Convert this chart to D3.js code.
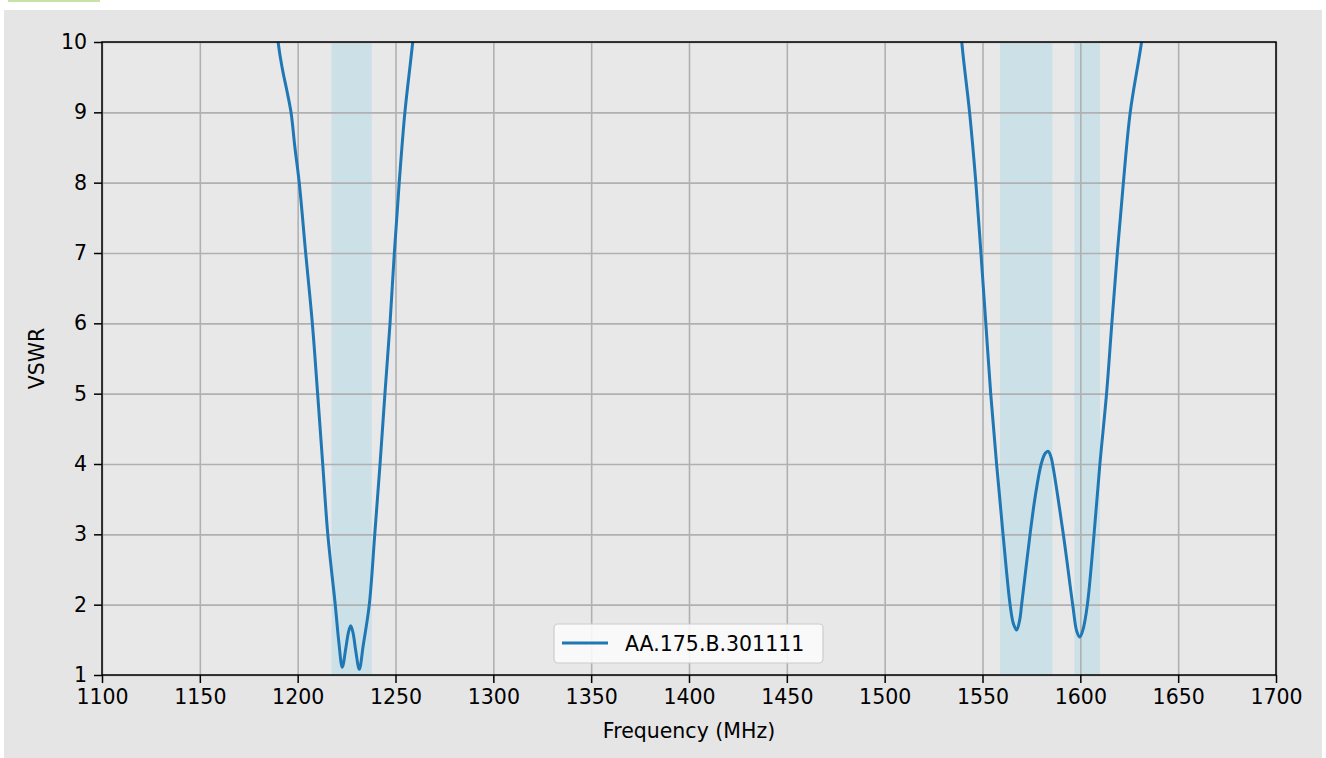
<!DOCTYPE html>
<html>
<head>
<meta charset="utf-8">
<script src="https://cdn.jsdelivr.net/npm/d3@7"></script>
<style>
  body { margin: 0; background: #ffffff; }
  text { font-family: "DejaVu Sans", sans-serif; fill: #000; }
</style>
</head>
<body>
<svg id="chart" width="1326" height="758"></svg>
<script>
var freq = [1176, 1184, 1190.0, 1192.3, 1194.4, 1196.6, 1198.6, 1200.8, 1204.1, 1207.5, 1210.2, 1212.8, 1215.4,
  1219.2, 1221.1, 1222.8, 1224.6, 1225.9, 1227.1, 1228.3, 1229.6, 1231.5, 1233.5, 1236.6,
  1239.4, 1242.1, 1244.6, 1247.2, 1249.4, 1251.9, 1254.8, 1258.8, 1264, 1275,
  1400,
  1525, 1534, 1539.4, 1543.4, 1546.6, 1549.2, 1551.7, 1554.2, 1557.2, 1560.5, 1564.1,
  1565.8, 1567.5, 1569.0, 1570.0, 1574.3, 1577.0, 1580.0, 1582.0, 1583.6, 1585.0, 1585.8,
  1591.3, 1596.1, 1598.2, 1599.8, 1601.5, 1603.6, 1607.0, 1610.0,
  1613.4, 1616.1, 1618.9, 1622.0, 1625.5, 1631.3, 1636, 1645];
var vswr = [16, 12, 10, 9.6, 9.32, 9.0, 8.5, 8, 7, 6, 5, 4, 3,
  2.0, 1.45, 1.11, 1.38, 1.6, 1.70, 1.6, 1.36, 1.08, 1.42, 2.0,
  3, 4, 5, 6, 7, 8, 9, 10, 11.5, 15,
  30,
  15, 12, 10, 9, 8, 7, 6, 5, 4, 3, 2,
  1.73, 1.64, 1.78, 2.0, 3.0, 3.55, 4.0, 4.15, 4.18, 4.1, 4.0,
  3.0, 2.0, 1.62, 1.54, 1.66, 2.0, 3.0, 4.0,
  5, 6, 7, 8, 9, 10, 11, 14];

var bandStart = [1217.37, 1559.05, 1597.0];
var bandEnd = [1237.83, 1585.7, 1610.0];

var xTicks = d3.range(1100, 1701, 50);
var yTicks = d3.range(1, 11, 1);
var seriesName = "AA.175.B.301111";

var svg = d3.select("#chart");
var pLeft = 102, pRight = 1276, pTop = 42, pBottom = 675;

var x = d3.scaleLinear().domain([1100, 1700]).range([pLeft, pRight]);
var y = d3.scaleLinear().domain([1, 10]).range([pBottom, pTop]);

// page decoration
svg.append("rect").attr("x", 8).attr("y", 0).attr("width", 92).attr("height", 2).attr("fill", "#c9e2a6");
svg.append("rect").attr("x", 4).attr("y", 10).attr("width", 1318).attr("height", 748).attr("fill", "#e5e5e5");
svg.append("rect").attr("x", pLeft).attr("y", pTop).attr("width", pRight - pLeft).attr("height", pBottom - pTop).attr("fill", "#e8e8e8");

svg.append("defs").append("clipPath").attr("id", "plotclip")
  .append("rect").attr("x", pLeft).attr("y", pTop).attr("width", pRight - pLeft).attr("height", pBottom - pTop);

// shaded bands
svg.append("g").selectAll("rect")
  .data(bandStart)
  .enter().append("rect")
  .attr("x", function (d) { return x(d); })
  .attr("y", pTop)
  .attr("width", function (d, i) { return x(bandEnd[i]) - x(d); })
  .attr("height", pBottom - pTop)
  .attr("fill", "#add8e6")
  .attr("opacity", 0.5);

// grid
var gx = svg.append("g").attr("transform", "translate(0," + pBottom + ")")
  .call(d3.axisBottom(x).tickValues(xTicks).tickSize(-(pBottom - pTop)).tickFormat(""));
var gy = svg.append("g").attr("transform", "translate(" + pLeft + ",0)")
  .call(d3.axisLeft(y).tickValues(yTicks).tickSize(-(pRight - pLeft)).tickFormat(""));
[gx, gy].forEach(function (g) {
  g.select(".domain").remove();
  g.selectAll("line").attr("stroke", "#b0b0b0").attr("stroke-width", 1.6);
});

// trace
var pts = freq.map(function (f, i) { return [f, vswr[i]]; });
var line = d3.line()
  .x(function (d) { return x(d[0]); })
  .y(function (d) { return y(d[1]); })
  .curve(d3.curveCatmullRom.alpha(0.5));

svg.append("path")
  .datum(pts)
  .attr("clip-path", "url(#plotclip)")
  .attr("fill", "none")
  .attr("stroke", "#1f77b4")
  .attr("stroke-width", 3)
  .attr("stroke-linejoin", "round")
  .attr("d", line);

// frame
svg.append("rect").attr("x", pLeft).attr("y", pTop).attr("width", pRight - pLeft).attr("height", pBottom - pTop)
  .attr("fill", "none").attr("stroke", "#000").attr("stroke-width", 1.5);

// axes
var ax = svg.append("g").attr("transform", "translate(0," + pBottom + ")")
  .call(d3.axisBottom(x).tickValues(xTicks).tickSize(8).tickPadding(6).tickFormat(d3.format("d")));
var ay = svg.append("g").attr("transform", "translate(" + pLeft + ",0)")
  .call(d3.axisLeft(y).tickValues(yTicks).tickSize(8).tickPadding(7).tickFormat(d3.format("d")));
[ax, ay].forEach(function (g) {
  g.select(".domain").remove();
  g.selectAll("line").attr("stroke", "#000").attr("stroke-width", 1.5);
  g.selectAll("text").style("font-size", "20.5px").style("font-family", "DejaVu Sans").attr("fill", "#000");
});

svg.append("text")
  .attr("x", (pLeft + pRight) / 2).attr("y", 738)
  .attr("text-anchor", "middle")
  .style("font-size", "20.5px")
  .text("Frequency (MHz)");

svg.append("text")
  .attr("transform", "translate(44," + ((pTop + pBottom) / 2) + ") rotate(-90)")
  .attr("text-anchor", "middle")
  .style("font-size", "20.5px")
  .text("VSWR");

// legend
var lg = svg.append("g");
lg.append("rect").attr("x", 554).attr("y", 624).attr("width", 269).attr("height", 39)
  .attr("rx", 4).attr("fill", "#fbfbfb").attr("fill-opacity", 0.9).attr("stroke", "#cccccc").attr("stroke-width", 1.2);
lg.append("line").attr("x1", 562).attr("x2", 608).attr("y1", 643).attr("y2", 643)
  .attr("stroke", "#1f77b4").attr("stroke-width", 3);
lg.append("text").attr("x", 625).attr("y", 650.5).style("font-size", "20.5px").text(seriesName);
</script>
</body>
</html>
